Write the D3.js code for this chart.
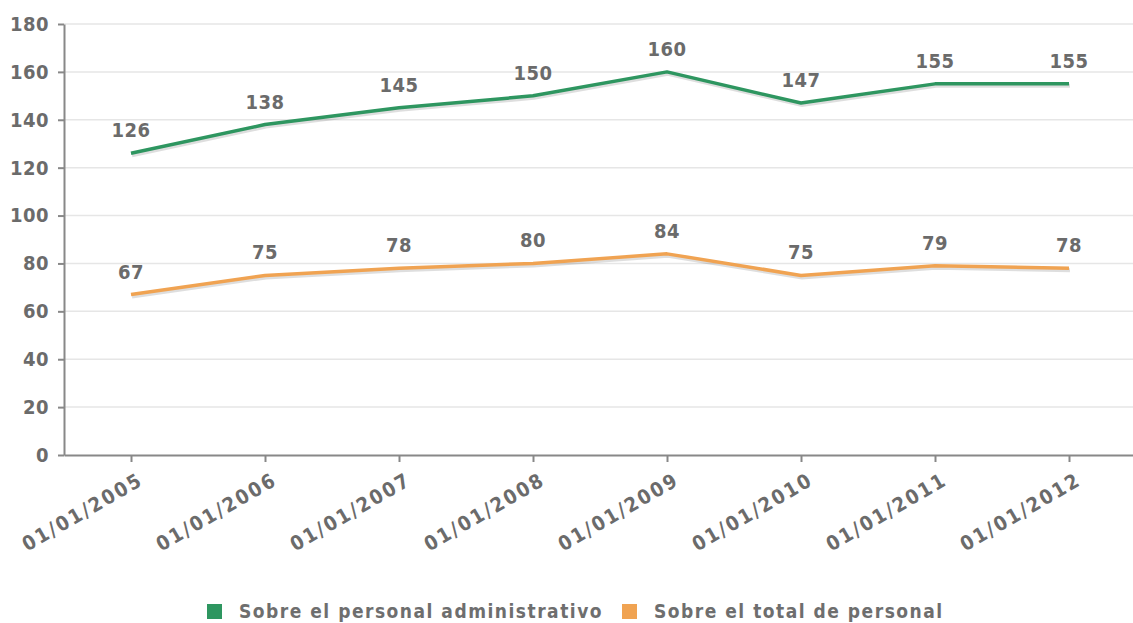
<!DOCTYPE html>
<html>
<head>
<meta charset="utf-8">
<script src="https://cdn.jsdelivr.net/npm/d3@7"></script>
<style>
  body { margin: 0; background: #fff; }
  svg { display: block; }
  text { font-family: "DejaVu Sans Condensed", "DejaVu Sans", sans-serif; }
</style>
</head>
<body>
<svg id="chart"></svg>
<script>
// datos del grafico
const fechas = ["01/01/2005", "01/01/2006", "01/01/2007", "01/01/2008",
                "01/01/2009", "01/01/2010", "01/01/2011", "01/01/2012"];
const administrativo = [126, 138, 145, 150, 160, 147, 155, 155];
const total = [67, 75, 78, 80, 84, 75, 79, 78];
const yTicks = [0, 20, 40, 60, 80, 100, 120, 140, 160, 180];
const seriesNames = ["Sobre el personal administrativo", "Sobre el total de personal"];
const seriesColors = ["#2e9660", "#f0a352"];

const width = 1133, height = 623;
const margin = { top: 24, right: 0, bottom: 168, left: 64 };

const svg = d3.select("#chart").attr("width", width).attr("height", height);

const x = d3.scalePoint().domain(fechas).range([margin.left, width + 3]).padding(0.5);
const y = d3.scaleLinear().domain([0, 180]).range([height - margin.bottom, margin.top]);

// lineas de la rejilla
svg.append("g")
    .selectAll("line")
    .data(yTicks.filter(d => d > 0))
    .enter()
    .append("line")
    .attr("x1", margin.left)
    .attr("x2", width)
    .attr("y1", d => y(d))
    .attr("y2", d => y(d))
    .attr("stroke", "#e6e6e6")
    .attr("stroke-width", 1.5);

// eje Y
const yAxis = svg.append("g")
    .attr("transform", `translate(${margin.left},0)`)
    .call(d3.axisLeft(y).tickValues(yTicks).tickSize(6).tickPadding(9).tickSizeOuter(0));
yAxis.select(".domain").attr("stroke", "#888").attr("stroke-width", 2);
yAxis.selectAll(".tick line").attr("stroke", "#888").attr("stroke-width", 2);
yAxis.selectAll(".tick text")
    .attr("font-family", null)
    .attr("font-size", 20)
    .attr("font-weight", "bold")
    .attr("letter-spacing", 0.5)
    .attr("fill", "#6b6b6b");

// eje X
const xAxis = svg.append("g")
    .attr("transform", `translate(0,${y(0)})`)
    .call(d3.axisBottom(x).tickSize(7).tickSizeOuter(0));
xAxis.select(".domain").attr("stroke", "#888").attr("stroke-width", 2);
xAxis.selectAll(".tick line").attr("stroke", "#888").attr("stroke-width", 2);
xAxis.selectAll(".tick text")
    .attr("font-family", null)
    .attr("font-size", 20)
    .attr("font-weight", "bold")
    .attr("letter-spacing", 2.2)
    .attr("fill", "#6b6b6b")
    .attr("text-anchor", "end")
    .attr("x", 0)
    .attr("y", 0)
    .attr("dy", 0)
    .attr("transform", "translate(13,29) rotate(-30)");

// series
const series = [administrativo, total];
const line = d3.line().x((d, i) => x(fechas[i])).y(d => y(d));

series.forEach((vals, s) => {
    // sombra
    svg.append("path")
        .datum(vals)
        .attr("d", line)
        .attr("fill", "none")
        .attr("stroke", "rgba(0,0,0,0.13)")
        .attr("stroke-width", 4)
        .attr("transform", "translate(1,2)");
    svg.append("path")
        .datum(vals)
        .attr("d", line)
        .attr("fill", "none")
        .attr("stroke", seriesColors[s])
        .attr("stroke-width", 3.5)
        .attr("stroke-linejoin", "round");
    svg.append("g")
        .selectAll("text")
        .data(vals)
        .enter()
        .append("text")
        .attr("x", (d, i) => x(fechas[i]))
        .attr("y", d => y(d) - 16)
        .attr("text-anchor", "middle")
        .attr("font-size", 20)
        .attr("font-weight", "bold")
        .attr("letter-spacing", 0.5)
        .attr("fill", "#6b6b6b")
        .text(d => d);
});

// leyenda
const legend = svg.append("g").attr("transform", "translate(0,611)");
const legendX = [207, 622];
seriesNames.forEach((name, i) => {
    legend.append("rect")
        .attr("x", legendX[i])
        .attr("y", -7)
        .attr("width", 15)
        .attr("height", 15)
        .attr("fill", seriesColors[i]);
    legend.append("text")
        .attr("x", legendX[i] + 32)
        .attr("y", 0)
        .attr("dy", "0.35em")
        .attr("font-size", 19)
        .attr("font-weight", "bold")
        .attr("letter-spacing", 1.5)
        .attr("fill", "#6e6e6e")
        .text(name);
});
</script>
</body>
</html>
